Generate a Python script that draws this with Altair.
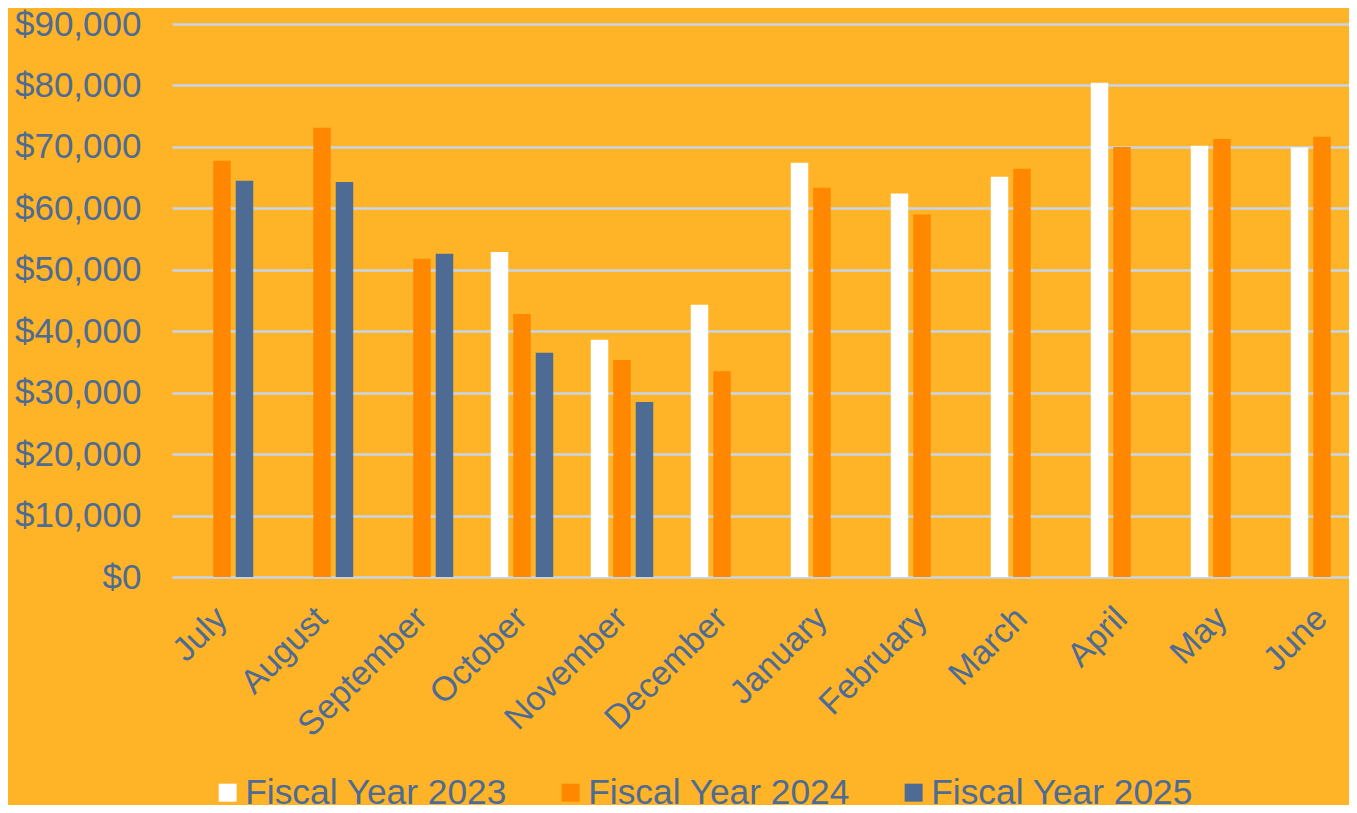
import altair as alt
import pandas as pd

months = ["July", "August", "September", "October", "November", "December",
          "January", "February", "March", "April", "May", "June"]
years = ["Fiscal Year 2023", "Fiscal Year 2024", "Fiscal Year 2025"]
fy2023 = [None, None, None, 52900, 38600, 44300, 67400, 62400, 65150, 80450, 70200, 69900]
fy2024 = [67750, 73100, 51800, 42800, 35300, 33500, 63350, 59000, 66450, 70000, 71300, 71650]
fy2025 = [64500, 64300, 52600, 36500, 28500, None, None, None, None, None, None, None]
y_ticks = [0, 10000, 20000, 30000, 40000, 50000, 60000, 70000, 80000, 90000]

rows = []
for yr, series in zip(years, [fy2023, fy2024, fy2025]):
    for m, v in zip(months, series):
        if v is not None:
            rows.append({"month": m, "year": yr, "value": v})
df = pd.DataFrame(rows)

BG = "#FFB326"
TXT = "#4E6B94"
FONT = "Liberation Sans"

chart = alt.Chart(df).mark_bar().encode(
    x=alt.X("month:N", sort=months,
            scale=alt.Scale(paddingInner=0.375, paddingOuter=0.1875),
            axis=alt.Axis(title=None, labelAngle=-45, labelAlign="right",
                          labelBaseline="middle", labelPadding=36, labelFontSize=34,
                          labelColor=TXT, labelFont=FONT, domain=False, ticks=False,
                          grid=False, labelLimit=0)),
    xOffset=alt.XOffset("year:N", sort=years,
                        scale=alt.Scale(domain=years, paddingInner=0.222, paddingOuter=0)),
    y=alt.Y("value:Q", scale=alt.Scale(domain=[0, 90000], nice=False),
            axis=alt.Axis(title=None, format="$,.0f", values=y_ticks,
                          labelFontSize=35, labelColor=TXT, labelFont=FONT,
                          labelPadding=31, domain=False, ticks=False,
                          gridColor="#C7D5EC", gridWidth=2.5, gridOpacity=1)),
    color=alt.Color("year:N",
                    scale=alt.Scale(domain=years, range=["#FFFFFF", "#FF8800", "#4E6B93"]),
                    legend=alt.Legend(orient="none", legendX=38, legendY=751,
                                      direction="horizontal", title=None,
                                      symbolType="square", symbolSize=324,
                                      symbolStrokeWidth=0, labelFontSize=35.3,
                                      labelColor=TXT, labelFont=FONT, labelOffset=0,
                                      labelLimit=0, columnPadding=46)),
).properties(
    width=1200, height=553,
    autosize=alt.AutoSizeParams(type="none"),
    padding={"left": 164, "top": 16, "right": -23, "bottom": 228},
    background=BG,
).configure_view(strokeWidth=0)

chart.save("out.html", embed_options={"renderer": "svg", "actions": False})
